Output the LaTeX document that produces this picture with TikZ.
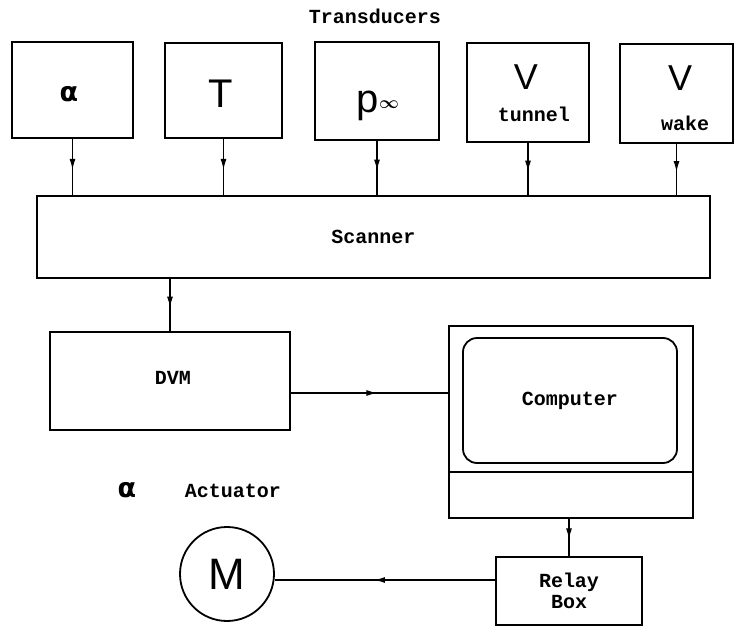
\documentclass[tikz,border=0pt]{standalone}
\usepackage{amsmath,bm}
\usepackage{fontspec}
\setmonofont{Liberation Mono}
\newfontfamily\symfont{Liberation Sans}
\newfontfamily\grkfont{DejaVu Sans}
\usepackage{tikz}
\usetikzlibrary{arrows.meta,positioning,calc,decorations.markings}

\begin{document}
\begin{tikzpicture}[x=1pt, y=-1pt, >=Latex, line width=1.8pt,
  lbl/.style={font=\fontsize{20}{22}\selectfont\ttfamily\bfseries},
  big/.style={font=\fontsize{40}{42}\selectfont\symfont},
  grk/.style={font=\fontsize{27}{29}\selectfont\grkfont\bfseries},
  blk/.style={draw, rectangle, inner sep=0pt},
  flow/.style={line width=1.4pt, decoration={markings, mark=at position 0.55 with {\arrow{Latex[length=11pt,width=6pt]}}}, postaction={decorate}}]
\useasboundingbox (0,0) rectangle (734,629);
% transducers
\node[lbl] (title) at (375,16) {Transducers};
\node[blk, minimum width=121pt, minimum height=96pt] (a) at (72.5,90) {};
\node[blk, minimum width=117pt, minimum height=95pt] (T) at (223.5,90.5) {};
\node[blk, minimum width=124pt, minimum height=98pt] (p) at (377,91) {};
\node[blk, minimum width=122pt, minimum height=99pt] (tun) at (528,92.5) {};
\node[blk, minimum width=113pt, minimum height=99pt] (wake) at (676.5,93.5) {};
\node[grk] at (69,94) {α};
\node[big] at (221,94) {T};
\node[big, anchor=base] at (378,112) {p\raisebox{4pt}{\fontsize{18}{18}\selectfont$\bm{\infty}$}};
\node[big, font=\fontsize{36}{38}\selectfont\symfont] at (526,77) {V};
\node[lbl] at (534,114) {tunnel};
\node[big, font=\fontsize{36}{38}\selectfont\symfont] at (680,78) {V};
\node[lbl] at (685,123) {wake};
% scanner and DVM
\node[blk, minimum width=673pt, minimum height=82pt] (scan) at (373.5,237) {};
\node[lbl] at (scan.center) {Scanner};
\node[blk, minimum width=240pt, minimum height=98pt] (dvm) at (170,381) {};
\node[lbl] at (173,378) {DVM};
% computer
\node[blk, minimum width=244pt, minimum height=192pt] (comp) at (571,422) {};
\draw (comp.west |- 0,472) -- (comp.east |- 0,472);
\node[blk, rounded corners=14pt, minimum width=214pt, minimum height=125pt] (scr) at (570,400.5) {};
\node[lbl] at (scr.center) {Computer};
% actuator
\node[grk] at (127,490) {α};
\node[lbl] at (233,491) {Actuator};
\node[blk, minimum width=146pt, minimum height=68pt, align=center, lbl, font=\fontsize{20}{21}\selectfont\ttfamily\bfseries] (relay) at (569,591) {Relay\\Box};
\node[draw, circle, minimum size=94pt, inner sep=0pt, font=\fontsize{44}{46}\selectfont\symfont] (M) at (227,574) {M};
% connectors
\foreach \n in {a,T,p,tun,wake}
  \draw[flow] (\n.south) -- (\n.south |- scan.north);
\draw[flow] (dvm.north |- scan.south) -- (dvm.north);
\draw[flow] (dvm.east |- 0,393) -- (comp.west |- 0,393);
\draw[flow] (relay.north |- comp.south) -- (relay.north);
\draw[flow] (relay.west |- 0,580) -- (M.east |- 0,580);
\end{tikzpicture}
\end{document}
